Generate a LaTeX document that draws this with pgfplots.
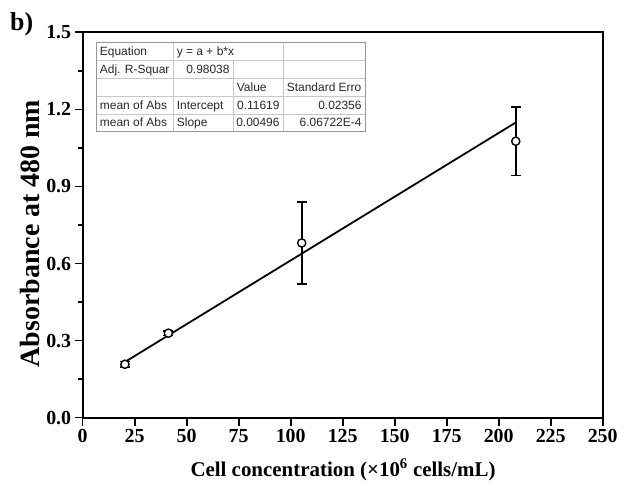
\documentclass[border=0pt]{standalone}
\usepackage{fontspec}
\setmainfont{Liberation Serif}
\newfontfamily\arialf{Liberation Sans}
\usepackage{pgfplots}
\pgfplotsset{compat=1.18}
\definecolor{gridc}{RGB}{200,200,200}
\definecolor{bordc}{RGB}{150,150,150}
\definecolor{tabtxt}{RGB}{40,40,40}
\begin{document}
\begin{tikzpicture}[x=1bp,y=1bp]
\path[use as bounding box] (-82.7,-68.3) rectangle (549.3,417.7);
\begin{axis}[
  at={(0,0)}, anchor=south west,
  width=520bp, height=385.4bp, scale only axis,
  xmin=0, xmax=250, ymin=0, ymax=1.5,
  xtick={0,25,50,75,100,125,150,175,200,225,250},
  ytick={0,0.3,0.6,0.9,1.2,1.5},
  minor ytick={0.15,0.45,0.75,1.05,1.35},
  xtick pos=bottom, ytick pos=left,
  tick align=outside,
  major tick length=8bp, minor tick length=5bp,
  axis line style={line width=1.8bp},
  every tick/.style={line width=1.6bp, black},
  ticklabel style={font=\fontsize{20}{24}\selectfont\bfseries},
  /pgf/number format/assume math mode=true,
  yticklabel style={/pgf/number format/.cd, fixed, fixed zerofill, precision=1},
  xticklabel style={/pgf/number format/.cd, fixed},
  xlabel={Cell concentration (×10\textsuperscript{6} cells/mL)},
  ylabel={Absorbance at 480 nm},
  xlabel style={font=\fontsize{21}{25}\selectfont\bfseries, at={(axis description cs:0.5006,-0.1357)}, anchor=center},
  ylabel style={font=\fontsize{28}{32}\selectfont\bfseries, at={(axis description cs:-0.1013,0.478)}, anchor=center},
]
% linear fit y = 0.11619 + 0.00496 x
\addplot[black, line width=1.8bp, no marks] coordinates {(20.3,0.2169) (208.2,1.1489)};
\addplot[black, only marks, mark=*, mark size=4.1bp,
  mark options={fill=white, draw=black, line width=1.4bp},
  error bars/.cd, y dir=both, y explicit,
  error bar style={line width=1.8bp, black},
  error mark options={rotate=90, mark size=4.9bp, line width=1.8bp, black}]
  table[x=x, y=y, y error=e] {
x y e
20.3 0.208 0.011
41.2 0.329 0.009
105.3 0.680 0.161
208.2 1.076 0.133
};
\end{axis}
% panel label
\node[anchor=base west, font=\fontsize{26}{28}\selectfont\bfseries, inner sep=0pt] at (-72.7,386.7) {b)};
% statistics table
\begin{scope}[font=\arialf\fontsize{12}{14}\selectfont, text=tabtxt]
\fill[white] (13.3,286) rectangle (282.3,375);
\foreach \yy in {357.2,339.4,321.6,303.8} \draw[gridc, line width=0.6bp] (13.3,\yy) -- (282.3,\yy);
\draw[gridc, line width=0.6bp] (90.3,286) -- (90.3,375);
\draw[gridc, line width=0.6bp] (150.3,286) -- (150.3,357.2);
\draw[gridc, line width=0.6bp] (200.3,286) -- (200.3,375);
\draw[bordc, line width=0.9bp] (13.3,286) rectangle (282.3,375);
\node[anchor=base west, inner sep=0pt] at (17,361.9) {Equation};
\node[anchor=base west, inner sep=0pt] at (94,361.9) {y = a + b*x};
\node[anchor=base west, inner sep=0pt] at (17,344.1) {Adj. R-Squar};
\node[anchor=base east, inner sep=0pt] at (147,344.1) {0.98038};
\node[anchor=base west, inner sep=0pt] at (154,326.3) {Value};
\node[anchor=base west, inner sep=0pt] at (204,326.3) {Standard Erro};
\node[anchor=base west, inner sep=0pt] at (17,308.5) {mean of Abs};
\node[anchor=base west, inner sep=0pt] at (94,308.5) {Intercept};
\node[anchor=base east, inner sep=0pt] at (197,308.5) {0.11619};
\node[anchor=base east, inner sep=0pt] at (279,308.5) {0.02356};
\node[anchor=base west, inner sep=0pt] at (17,290.7) {mean of Abs};
\node[anchor=base west, inner sep=0pt] at (94,290.7) {Slope};
\node[anchor=base east, inner sep=0pt] at (197,290.7) {0.00496};
\node[anchor=base east, inner sep=0pt] at (279,290.7) {6.06722E-4};
\end{scope}
\end{tikzpicture}
\end{document}
